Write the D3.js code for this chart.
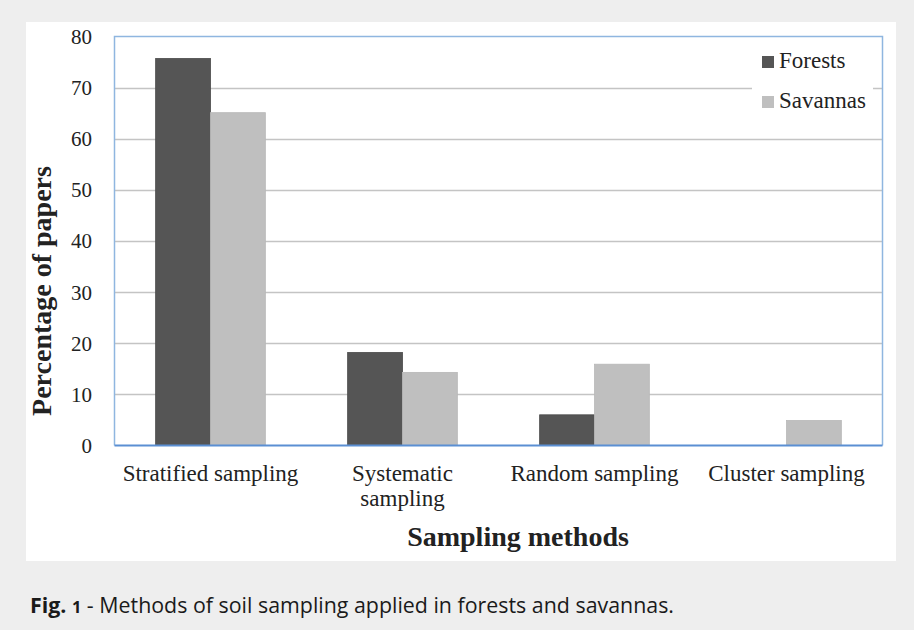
<!DOCTYPE html>
<html>
<head>
<meta charset="utf-8">
<script src="https://cdn.jsdelivr.net/npm/d3@7"></script>
<style>
  html, body { margin: 0; padding: 0; background: #eeeeee; }
  svg { display: block; }
  .serif { font-family: 'Liberation Serif', 'Times New Roman', serif; }
</style>
</head>
<body>
<svg id="chart" width="914" height="630"></svg>
<script>
const categories = [["Stratified sampling"], ["Systematic", "sampling"], ["Random sampling"], ["Cluster sampling"]];
const seriesNames = ["Forests", "Savannas"];
const forests = [75.7, 18.2, 6.0, 0];
const savannas = [65.1, 14.3, 15.9, 4.9];
const yTicks = [0, 10, 20, 30, 40, 50, 60, 70, 80];
const colors = ["#555555", "#bfbfbf"];

(function () {
const svg = d3.select("#chart");

svg.append("rect").attr("width", 914).attr("height", 630).attr("fill", "#eeeeee");
svg.append("rect").attr("x", 26).attr("y", 22).attr("width", 870).attr("height", 539).attr("fill", "#ffffff");

const pLeft = 114.5, pRight = 882.5, pTop = 36.5, pBottom = 445.5;
const x0 = d3.scaleBand().domain(d3.range(categories.length)).range([pLeft, pRight]).paddingInner(0).paddingOuter(0);
const groupW = x0.bandwidth() * 2 / 3.5;
const x1 = d3.scaleBand().domain(d3.range(seriesNames.length)).range([0, groupW]);
const y = d3.scaleLinear().domain([0, 80]).range([pBottom, pTop]);

// gridlines
svg.append("g").selectAll("line").data(yTicks.filter(t => t > 0 && t < 80)).join("line")
  .attr("x1", pLeft).attr("x2", pRight)
  .attr("y1", d => Math.round(y(d)) + 0.5).attr("y2", d => Math.round(y(d)) + 0.5)
  .attr("stroke", "#c4c4c4").attr("stroke-width", 1.3);

// bars
const data = [forests, savannas];
const g = svg.append("g");
data.forEach((vals, si) => {
  g.selectAll(".s" + si).data(vals.map((v, i) => ({v, i}))).join("rect")
    .attr("class", "s" + si)
    .attr("x", d => x0(d.i) + (x0.bandwidth() - groupW) / 2 + x1(si))
    .attr("y", d => y(d.v))
    .attr("width", x1.bandwidth())
    .attr("height", d => y(0) - y(d.v))
    .attr("fill", colors[si])
    .attr("stroke", si === 0 ? "#4a4a4a" : "#b8b8b8")
    .attr("stroke-width", d => d.v > 0 ? 0.8 : 0);
});

// plot border
svg.append("path")
  .attr("d", `M${pLeft},${pBottom} V${pTop} H${pRight} V${pBottom}`)
  .attr("fill", "none").attr("stroke", "#8fb6e0").attr("stroke-width", 1.5);
svg.append("line").attr("x1", pLeft).attr("x2", pRight).attr("y1", pBottom).attr("y2", pBottom)
  .attr("stroke", "#5b8fd3").attr("stroke-width", 2);

// y axis labels
const yAxis = d3.axisLeft(y).tickValues(yTicks).tickSize(0).tickPadding(0);
const ya = svg.append("g").attr("transform", `translate(92,0)`).call(yAxis);
ya.attr("font-family", null).attr("font-size", null);
ya.select(".domain").remove();
ya.selectAll("text").attr("class", "serif").style("font-size", "21px").attr("fill", "#222").attr("dy", "0.33em");

// x labels
const xl = svg.append("g").attr("class", "serif");
categories.forEach((lines, i) => {
  const t = xl.append("text").attr("class", "serif").attr("x", x0(i) + x0.bandwidth() / 2).attr("y", 481)
    .attr("text-anchor", "middle").style("font-size", "23px").attr("fill", "#222");
  lines.forEach((ln, j) => t.append("tspan").attr("x", x0(i) + x0.bandwidth() / 2).attr("dy", j === 0 ? 0 : 25).text(ln));
});

// axis titles
svg.append("text").attr("class", "serif").attr("x", 518).attr("y", 546).attr("text-anchor", "middle")
  .style("font-size", "28px").attr("font-weight", "bold").attr("fill", "#222")
  .text("Sampling methods");
svg.append("text").attr("class", "serif").attr("transform", `translate(51,291) rotate(-90)`).attr("text-anchor", "middle")
  .style("font-size", "28px").attr("font-weight", "bold").attr("fill", "#222")
  .text("Percentage of papers");

// legend
const lg = svg.append("g").attr("class", "serif");
lg.append("rect").attr("x", 752).attr("y", 40).attr("width", 121).attr("height", 78).attr("fill", "#fff");
seriesNames.forEach((n, i) => {
  lg.append("rect").attr("x", 762).attr("y", 56 + i * 40).attr("width", 12).attr("height", 12).attr("fill", colors[i]);
  lg.append("text").attr("class", "serif").attr("x", 779).attr("y", 68 + i * 40).style("font-size", "23px")
    .attr("fill", "#222").text(n);
});

// caption
const cap = svg.append("text").attr("x", 30).attr("y", 613).attr("font-family", "'Open Sans', 'Noto Sans', sans-serif")
  .attr("font-size", 21).attr("fill", "#1a1a1a").attr("textLength", 644).attr("lengthAdjust", "spacingAndGlyphs");
cap.append("tspan").attr("font-weight", "bold").text("Fig. ");
cap.append("tspan").attr("font-weight", "bold").attr("font-size", 16).text("1");
cap.append("tspan").text(" - Methods of soil sampling applied in forests and savannas.");
})();
</script>
</body>
</html>
